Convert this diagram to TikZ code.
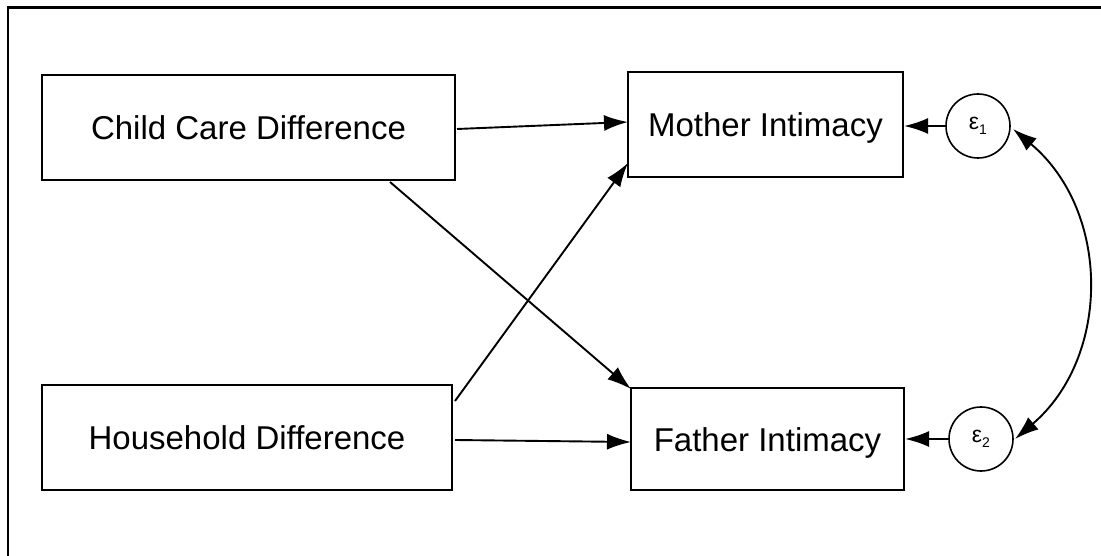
\documentclass[tikz,border=0pt]{standalone}
\usepackage{fontspec}
\setmainfont{Liberation Sans}
\usetikzlibrary{arrows.meta}
\begin{document}
\begin{tikzpicture}[x=1pt,y=-1pt,
  varbox/.style={draw,line width=2.2pt,inner sep=0pt,font=\fontsize{33}{38}\selectfont},
  lowtext/.style={text height=31pt,text depth=7pt},
  errcirc/.style={draw,circle,line width=1.6pt,minimum size=64pt,inner sep=0pt,font=\fontsize{23}{24}\selectfont},
  tip/.tip={Latex[length=24pt,width=16pt]},
  path/.style={line width=1.9pt,-tip},
  cov/.style={line width=1.9pt,tip-tip}]
  \useasboundingbox (0,0) rectangle (1101,556);
  \fill[white] (0,0) rectangle (1101,556);
  % outer frame (only left and top edges fall inside the page)
  \draw[line width=2.2pt] (8,560) -- (8,7.5) -- (1105,7.5);

  % observed variables
  \node[varbox,minimum width=413pt,minimum height=105pt] (ccd) at (248.5,127.5) {Child Care Difference};
  \node[varbox,minimum width=410pt,minimum height=105pt] (hhd) at (247,437.5) {Household Difference};
  \node[varbox,lowtext,minimum width=275pt,minimum height=105pt] (mi) at (765.5,124.5) {Mother Intimacy};
  \node[varbox,lowtext,minimum width=273pt,minimum height=102pt] (fi) at (767.5,439) {Father Intimacy};

  % error terms
  \node[errcirc] (e1) at (978,126) {ε\raisebox{-0.4ex}{\fontsize{14}{14}\selectfont 1}};
  \node[errcirc] (e2) at (981,439) {ε\raisebox{-0.4ex}{\fontsize{14}{14}\selectfont 2}};

  % anchor points on the box edges
  \coordinate (ccdR) at (457,129);
  \coordinate (ccdB) at (390,182);
  \coordinate (hhdR) at (455,440);
  \coordinate (hhdT) at (455,401);
  \coordinate (miL) at (628,122);
  \coordinate (miLB) at (628,163);
  \coordinate (fiL) at (631,442);
  \coordinate (fiTL) at (631,389);

  % structural paths
  \draw[path] (ccdR) -- (miL);
  \draw[path] (ccdB) -- (fiTL);
  \draw[path] (hhdT) -- (miLB);
  \draw[path] (hhdR) -- (fiL);

  % error paths
  \draw[path] (e1.west) -- (mi.east |- e1.west);
  \draw[path] (e2.west) -- (fi.east |- e2.west);

  % error covariance
  \coordinate (c1) at (1013,129);
  \coordinate (c2) at (1015,439);
  \draw[cov] (c1) .. controls (1111,211) and (1111,357) .. (c2);
\end{tikzpicture}
\end{document}
